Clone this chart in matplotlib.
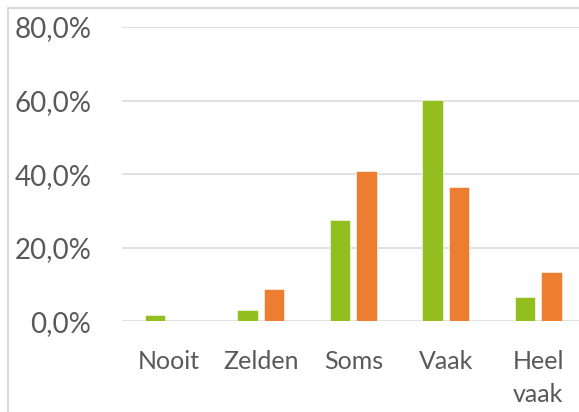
import numpy as np
import matplotlib
matplotlib.use("Agg")
import matplotlib.pyplot as plt
import matplotlib.lines as lines
from matplotlib.ticker import FuncFormatter

plt.rcParams["font.family"] = ["Lato", "DejaVu Sans"]

categories = ["Nooit", "Zelden", "Soms", "Vaak", "Heel\nvaak"]
green_vals = [1.7, 3.2, 27.6, 60.2, 6.6]
orange_vals = [0.0, 8.9, 40.8, 36.4, 13.3]

W, H = 579, 412
fig = plt.figure(figsize=(W / 100, H / 100), dpi=100)

# axes in pixel positions (right edge runs off the picture, as in the reference)
left, bottom, top = 122, 321.3, 27
ax = fig.add_axes([left / W, 1 - bottom / H, 462.5 / W, (bottom - top) / H])

x = np.arange(len(categories))
bw = 0.224
off = 0.143
ax.bar(x - off, green_vals, bw, color="#92BE1F", edgecolor="white", linewidth=0.4, zorder=3)
ax.bar(x + off, orange_vals, bw, color="#ED7D31", edgecolor="white", linewidth=0.4, zorder=3)

ax.set_xlim(-0.5, 4.5)
ax.set_ylim(0, 80)
ax.set_yticks([0, 20, 40, 60, 80])
ax.yaxis.set_major_formatter(FuncFormatter(lambda v, p: ("%.1f%%" % v).replace(".", ",")))
ax.grid(axis="y", color="#D9D9D9", linewidth=1.1, zorder=0)
ax.set_xticks(x)
ax.set_xticklabels(categories, linespacing=1.55)

for s in ax.spines.values():
    s.set_visible(False)
ax.tick_params(axis="y", length=0, pad=22, labelsize=20, labelcolor="#595959")
ax.tick_params(axis="x", length=0, pad=20.5, labelsize=18, labelcolor="#595959")

# outer chart border (cropped at right and bottom)
bx, by = 8 / W, 1 - 8 / H
fig.add_artist(lines.Line2D([bx, bx, 1.01], [-0.01, by, by], color="#D9D9D9", lw=1.5))

fig.savefig("out.png", dpi=100)
